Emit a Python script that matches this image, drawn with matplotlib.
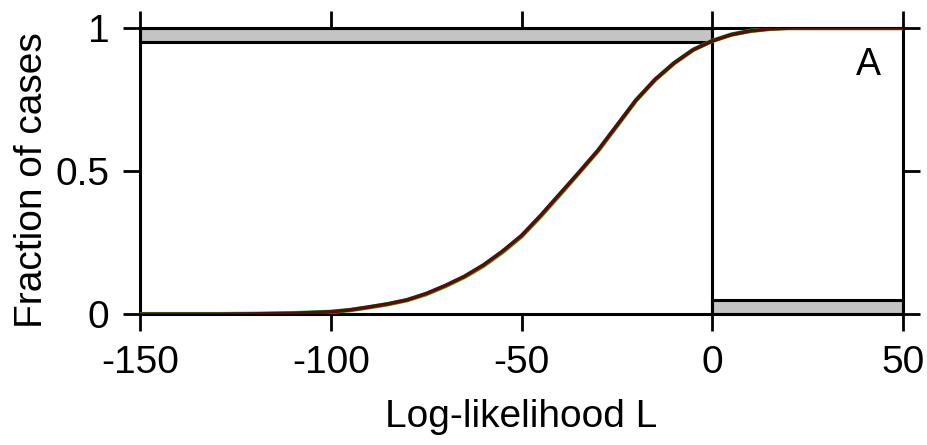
import matplotlib
matplotlib.use('Agg')
import matplotlib.pyplot as plt
from matplotlib.patches import Rectangle

# cumulative fraction of cases vs log-likelihood
loglik = [-150, -140, -130, -120, -110, -100, -95, -90, -85, -80, -75, -70, -65,
          -60, -55, -50, -45, -40, -35, -30, -25, -20, -15, -10, -5, 0,
          5, 10, 15, 20, 30, 40, 50]
frac_red = [0, 0, 0, 0.001, 0.003, 0.008, 0.015, 0.025, 0.036, 0.05, 0.072, 0.1, 0.132,
            0.172, 0.22, 0.275, 0.345, 0.42, 0.495, 0.572, 0.66, 0.748, 0.82, 0.878, 0.924, 0.955,
            0.977, 0.99, 0.997, 1, 1, 1, 1]
frac_green = [0, 0, 0, 0.001, 0.003, 0.008, 0.014, 0.024, 0.035, 0.049, 0.07, 0.098, 0.13,
              0.169, 0.217, 0.272, 0.342, 0.417, 0.493, 0.57, 0.658, 0.747, 0.819, 0.877, 0.924, 0.955,
              0.977, 0.99, 0.997, 1, 1, 1, 1]

# shaded regions: (x0, x1, y0, y1)
band_top = (-150, 0, 0.95, 1.0)
band_bottom = (0, 50, 0.0, 0.05)

xticks = [-150, -100, -50, 0, 50]
yticks = [0, 0.5, 1]
yticklabels = ['0', '0.5', '1']

plt.rcParams['font.family'] = ['Liberation Sans', 'DejaVu Sans']
plt.rcParams['axes.unicode_minus'] = False

fig = plt.figure(figsize=(9.28, 4.45), dpi=100)
ax = fig.add_axes([0.151, 0.294, 0.822, 0.643])

for x0, x1, y0, y1 in (band_top, band_bottom):
    ax.add_patch(Rectangle((x0, y0), x1 - x0, y1 - y0, facecolor='#c4c4c4',
                           edgecolor='black', linewidth=2.2, zorder=2))

ax.plot([0, 0], [0, 1], color='black', linewidth=2.2, zorder=3)

ax.plot(loglik, frac_green, color='#22b022', linewidth=3.2, zorder=4,
        solid_joinstyle='round')
ax.plot(loglik, frac_red, color='#5a0d08', linewidth=2.6, zorder=5,
        solid_joinstyle='round')

ax.set_xlim(-150, 50)
ax.set_ylim(0, 1)
ax.set_xticks(xticks)
ax.set_yticks(yticks)
ax.set_yticklabels(yticklabels)
ax.tick_params(direction='out', length=12, width=2, labelsize=28,
               top=True, right=True, pad=10)
for s in ax.spines.values():
    s.set_linewidth(2.2)

ax.set_xlabel('Log-likelihood L', fontsize=28)
ax.xaxis.set_label_coords(0.5, -0.295)
ax.set_ylabel('Fraction of cases', fontsize=28)
ax.yaxis.set_label_coords(-0.118, 0.47)
ax.text(0.955, 0.87, 'A', transform=ax.transAxes, fontsize=27,
        ha='center', va='center')

fig.savefig('out.png', dpi=100)
